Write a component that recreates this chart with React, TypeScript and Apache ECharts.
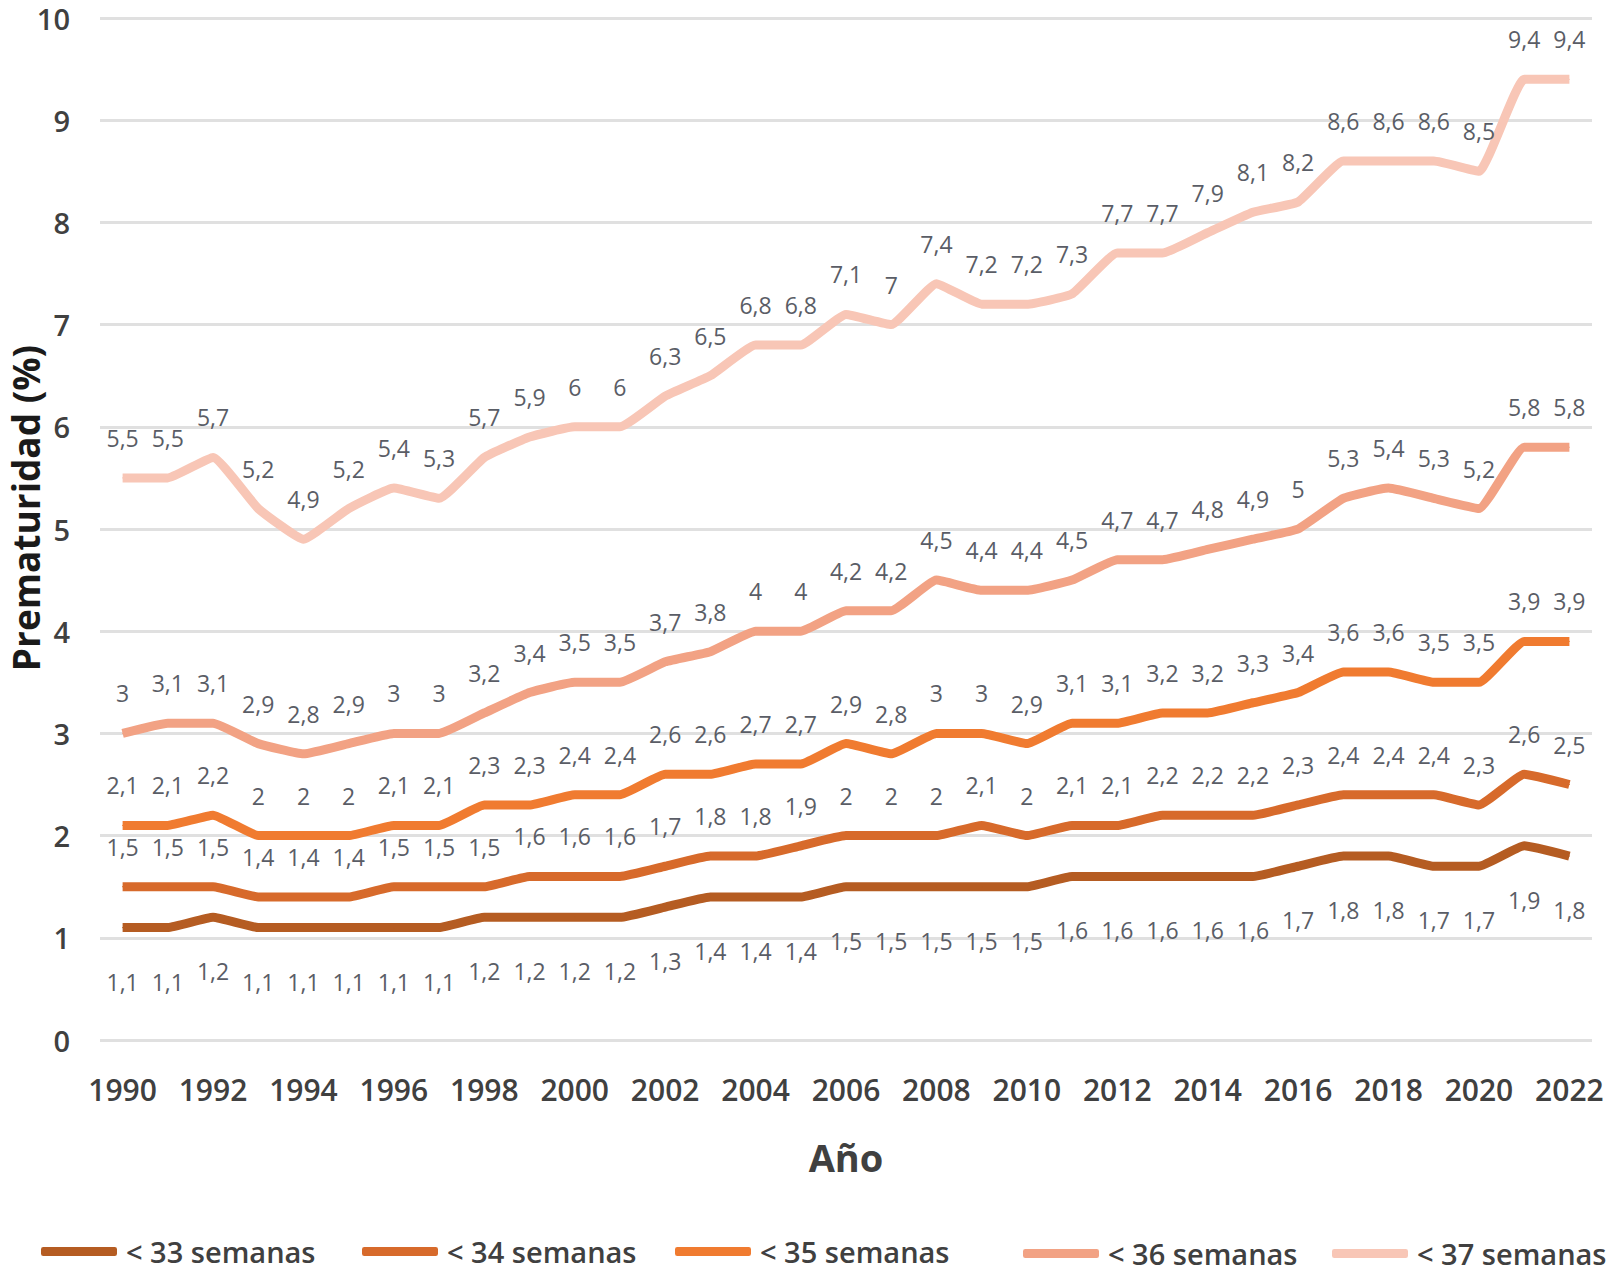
import React, { useEffect, useRef } from "react";
import * as echarts from "echarts";

const years = [
  "1990","1991","1992","1993","1994","1995","1996","1997","1998","1999","2000",
  "2001","2002","2003","2004","2005","2006","2007","2008","2009","2010","2011",
  "2012","2013","2014","2015","2016","2017","2018","2019","2020","2021","2022",
];

const s33 = [1.1,1.1,1.2,1.1,1.1,1.1,1.1,1.1,1.2,1.2,1.2,1.2,1.3,1.4,1.4,1.4,1.5,1.5,1.5,1.5,1.5,1.6,1.6,1.6,1.6,1.6,1.7,1.8,1.8,1.7,1.7,1.9,1.8];
const s34 = [1.5,1.5,1.5,1.4,1.4,1.4,1.5,1.5,1.5,1.6,1.6,1.6,1.7,1.8,1.8,1.9,2,2,2,2.1,2,2.1,2.1,2.2,2.2,2.2,2.3,2.4,2.4,2.4,2.3,2.6,2.5];
const s35 = [2.1,2.1,2.2,2,2,2,2.1,2.1,2.3,2.3,2.4,2.4,2.6,2.6,2.7,2.7,2.9,2.8,3,3,2.9,3.1,3.1,3.2,3.2,3.3,3.4,3.6,3.6,3.5,3.5,3.9,3.9];
const s36 = [3,3.1,3.1,2.9,2.8,2.9,3,3,3.2,3.4,3.5,3.5,3.7,3.8,4,4,4.2,4.2,4.5,4.4,4.4,4.5,4.7,4.7,4.8,4.9,5,5.3,5.4,5.3,5.2,5.8,5.8];
const s37 = [5.5,5.5,5.7,5.2,4.9,5.2,5.4,5.3,5.7,5.9,6,6,6.3,6.5,6.8,6.8,7.1,7,7.4,7.2,7.2,7.3,7.7,7.7,7.9,8.1,8.2,8.6,8.6,8.6,8.5,9.4,9.4];

const seriesNames = ["< 33 semanas", "< 34 semanas", "< 35 semanas", "< 36 semanas", "< 37 semanas"];
const seriesData = [s33, s34, s35, s36, s37];
const colors = ["#b55c22", "#d76a2b", "#f07b30", "#f2a284", "#f8c6b6"];
const labelPos = ["bottom", "top", "top", "top", "top"];
const legendLeft = [36, 357, 670, 1018, 1327];
const legendTop = [1232, 1232, 1232, 1234, 1234];

export default function App() {
  const ref = useRef<HTMLDivElement>(null);
  useEffect(() => {
    document.body.style.margin = "0";
    const chart = echarts.init(ref.current!, null, { renderer: "svg" });
    const font = "'Open Sans', 'Liberation Sans', sans-serif";
    chart.setOption({
      animation: false,
      backgroundColor: "#ffffff",
      grid: { left: 100, right: 28, top: 18, bottom: 234 },
      legend: seriesNames.map((n, i) => ({
        data: [n],
        left: legendLeft[i],
        top: legendTop[i],
        icon: "roundRect",
        itemWidth: 76,
        itemHeight: 9,
        itemGap: 0,
        textStyle: { fontFamily: font, fontSize: 29, fontWeight: 600, color: "#404040", padding: [0, 0, 0, 4] },
      })),
      xAxis: {
        type: "category",
        data: years,
        boundaryGap: true,
        axisLine: { show: false },
        axisTick: { show: false },
        axisLabel: { interval: 1, margin: 34, fontFamily: font, fontSize: 30, fontWeight: 600, color: "#404040" },
        name: "Año",
        nameLocation: "middle",
        nameGap: 98,
        nameTextStyle: { fontFamily: font, fontSize: 38, fontWeight: 700, color: "#404040" },
      },
      yAxis: {
        type: "value",
        min: 0,
        max: 10,
        interval: 1,
        axisLine: { show: false },
        axisTick: { show: false },
        splitLine: { lineStyle: { color: "#e0e0e0", width: 3 } },
        axisLabel: { margin: 30, fontFamily: font, fontSize: 29, lineHeight: 26, fontWeight: 600, color: "#404040" },
      },
      graphic: [
        {
          type: "text",
          x: 25,
          y: 508,
          rotation: Math.PI / 2,
          style: {
            text: "Prematuridad (%)",
            fontFamily: font,
            fontSize: 37,
            fontWeight: 700,
            fill: "#1a1a1a",
            textAlign: "center",
            textVerticalAlign: "middle",
          },
        },
      ],
      series: seriesNames.map((n, i) => ({
        name: n,
        type: "line",
        data: seriesData[i],
        smooth: 0.12,
        symbol: "circle",
        symbolSize: 1,
        showSymbol: true,
        itemStyle: { color: colors[i] },
        lineStyle: { color: colors[i], width: 9 },
        z: 2 + i,
        label: {
          show: true,
          position: labelPos[i],
          distance: labelPos[i] === "bottom" ? 42 : 28,
          fontFamily: font,
          fontSize: 23,
          color: "#5a5d66",
          formatter: (p: any) => String(p.value).replace(".", ","),
        },
      })),
    });
    return () => chart.dispose();
  }, []);
  return <div ref={ref} style={{ width: 1620, height: 1274 }} />;
}
